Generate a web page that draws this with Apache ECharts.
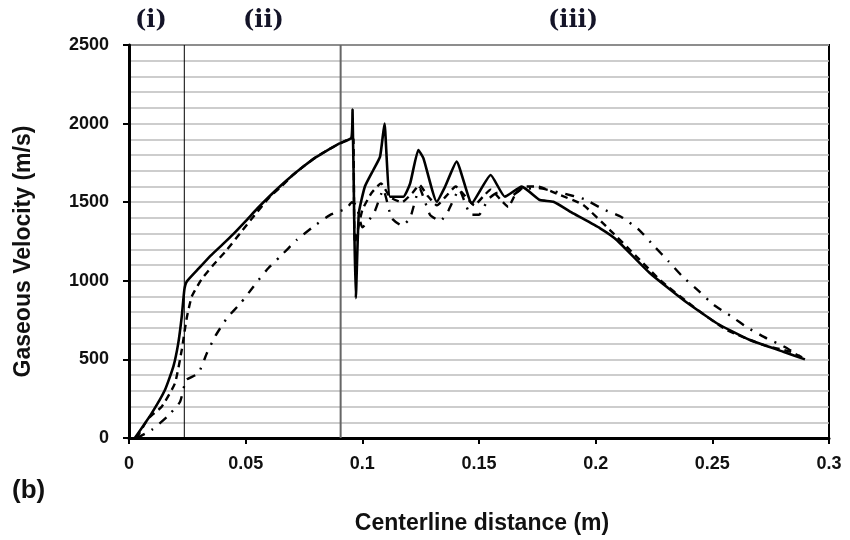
<!DOCTYPE html>
<html>
<head>
<meta charset="utf-8">
<script src="https://cdn.jsdelivr.net/npm/echarts@6/dist/echarts.min.js"></script>
<style>html,body{margin:0;padding:0;background:#fff;}#c{width:850px;height:540px;}</style>
</head>
<body>
<div id="c"></div>
<script>
// ---- data ----
const xTicks = [0, 0.05, 0.1, 0.15, 0.2, 0.25, 0.3];
const yTicks = [0, 500, 1000, 1500, 2000, 2500];
const regionBounds = [0.0237, 0.0907];
const regionLabels = ['(i)', '(ii)', '(iii)'];

const solidX = [0.0025,0.0097,0.0154,0.019,0.0211,0.0226,0.0237,0.0247,0.03,0.035,0.04,0.045,0.05,0.055,0.06,0.065,0.07,0.075,0.08,0.085,0.09,0.0953,0.0958,0.0966,0.0972,0.0985,0.1011,0.1047,0.1076,0.1095,0.1119,0.1176,0.1205,0.124,0.1262,0.1319,0.1355,0.1404,0.1469,0.155,0.1611,0.1683,0.1761,0.1819,0.1904,0.2019,0.209,0.2233,0.2376,0.2519,0.2661,0.2804,0.2897];
const solidV = [0,157,305,454,602,772,941,994,1080,1160,1230,1302,1380,1460,1535,1605,1670,1730,1785,1830,1872,1910,2090,1300,890,1430,1600,1705,1790,2000,1535,1535,1620,1832,1779,1503,1600,1758,1493,1673,1535,1599,1514,1503,1429,1334,1260,1048,878,730,623,549,500];

const dashX = [0.0033,0.0083,0.014,0.0197,0.0226,0.0247,0.0269,0.0311,0.0361,0.0419,0.0476,0.0533,0.0604,0.065,0.07,0.075,0.08,0.085,0.09,0.0953,0.0962,0.0968,0.1,0.104,0.108,0.112,0.117,0.1215,0.1245,0.128,0.132,0.136,0.14,0.144,0.148,0.152,0.155,0.159,0.1625,0.166,0.17,0.175,0.1847,0.1947,0.2061,0.2176,0.2276,0.2419,0.2561,0.2719,0.2833,0.2897];
const dashV = [0,125,199,348,560,760,900,1010,1100,1196,1302,1408,1535,1595,1670,1730,1785,1830,1870,1905,1900,1240,1450,1560,1620,1530,1500,1560,1610,1540,1480,1540,1600,1540,1480,1540,1580,1520,1470,1560,1600,1600,1546,1482,1323,1153,1005,835,687,592,549,505];

const dotX = [0.0033,0.0097,0.0163,0.0219,0.0245,0.0297,0.0334,0.0371,0.042,0.048,0.0533,0.059,0.0647,0.0719,0.079,0.0861,0.0933,0.0955,0.0975,0.1,0.105,0.109,0.1125,0.117,0.1205,0.1245,0.129,0.1335,0.137,0.1415,0.1465,0.15,0.154,0.158,0.163,0.168,0.175,0.185,0.195,0.2033,0.211,0.2187,0.225,0.2311,0.237,0.244,0.2507,0.2583,0.2653,0.2733,0.2811,0.2897];
const dotV = [0,51,134,231,369,411,540,651,763,861,962,1069,1153,1260,1344,1418,1461,1500,1480,1340,1430,1580,1400,1350,1400,1590,1420,1380,1450,1580,1420,1420,1520,1560,1530,1580,1590,1560,1520,1455,1406,1323,1221,1126,1030,937,846,772,700,634,579,500];

const zip = (xs, ys) => xs.map((x, i) => [x, ys[i]]);
const yMax = yTicks[yTicks.length - 1];

const labelFont = '"Liberation Sans", Arial, sans-serif';
const chart = echarts.init(document.getElementById('c'), null, {renderer: 'canvas'});
chart.setOption({
  animation: false,
  backgroundColor: '#fff',
  grid: {left: 129, right: 21, top: 45, bottom: 102, show: true, borderColor: '#000', borderWidth: 2},
  xAxis: {
    type: 'value', min: 0, max: 0.3, interval: 0.05,
    name: 'Centerline distance (m)', nameLocation: 'middle', nameGap: 74,
    nameTextStyle: {fontFamily: labelFont, fontWeight: 'bold', fontSize: 23, color: '#111', padding: [0, 0, 0, 6]},
    axisLine: {show: true, onZero: false, lineStyle: {color: '#000', width: 3}},
    axisTick: {show: true, inside: false, length: 6, lineStyle: {color: '#000', width: 2}},
    axisLabel: {fontFamily: labelFont, fontWeight: 'bold', fontSize: 18, color: '#111', margin: 17,
      formatter: v => { const t = xTicks.find(k => Math.abs(k - v) < 1e-9); return t === undefined ? '' : String(t); }},
    splitLine: {show: false}
  },
  yAxis: {
    type: 'value', min: 0, max: yMax, interval: 500,
    name: 'Gaseous Velocity (m/s)', nameLocation: 'middle', nameGap: 94,
    nameTextStyle: {fontFamily: labelFont, fontWeight: 'bold', fontSize: 23, color: '#111', padding: [0, 20, 0, 0]},
    axisLine: {show: true, lineStyle: {color: '#000', width: 3}},
    axisTick: {show: true, inside: false, length: 6, lineStyle: {color: '#000', width: 2}},
    axisLabel: {fontFamily: labelFont, fontWeight: 'bold', fontSize: 18, color: '#111', margin: 20,
      formatter: v => yTicks.includes(v) ? String(v) : ''},
    splitLine: {show: true, lineStyle: {color: '#bdbdbd', width: 1.5}},
    minorTick: {show: false, splitNumber: 5},
    minorSplitLine: {show: true, lineStyle: {color: '#bdbdbd', width: 1.5}}
  },
  series: [
    {
      name: 'bound1', type: 'line', data: [[regionBounds[0], 0], [regionBounds[0], yMax]],
      showSymbol: false, symbol: 'none', silent: true, lineStyle: {color: '#000', width: 1}, z: 2
    },
    {
      name: 'bound2', type: 'line', data: [[regionBounds[1], 0], [regionBounds[1], yMax]],
      showSymbol: false, symbol: 'none', silent: true, lineStyle: {color: '#666', width: 2}, z: 2
    },
    {
      name: 'solid', type: 'line', data: zip(solidX, solidV), showSymbol: false, symbol: 'none',
      smooth: 0.15, lineStyle: {color: '#000', width: 2.6, type: 'solid'}, z: 5
    },
    {
      name: 'dashed', type: 'line', data: zip(dashX, dashV), showSymbol: false, symbol: 'none',
      smooth: 0.15, lineStyle: {color: '#000', width: 2.4, type: [7, 5]}, z: 4
    },
    {
      name: 'dashdot', type: 'line', data: zip(dotX, dotV), showSymbol: false, symbol: 'none',
      smooth: 0.15, lineStyle: {color: '#000', width: 2.4, type: [9, 8, 2, 8]}, z: 3
    }
  ],
  graphic: [
    {type: 'text', left: 135, top: 9, style: {text: regionLabels[0], font: 'bold 24px "DejaVu Serif", serif', fill: '#141428'}},
    {type: 'text', left: 243, top: 9, style: {text: regionLabels[1], font: 'bold 24px "DejaVu Serif", serif', fill: '#141428'}},
    {type: 'text', left: 548, top: 9, style: {text: regionLabels[2], font: 'bold 24px "DejaVu Serif", serif', fill: '#141428'}},
    {type: 'text', left: 12, top: 478, style: {text: '(b)', font: 'bold 26px ' + labelFont, fill: '#111'}}
  ]
});
</script>
</body>
</html>
